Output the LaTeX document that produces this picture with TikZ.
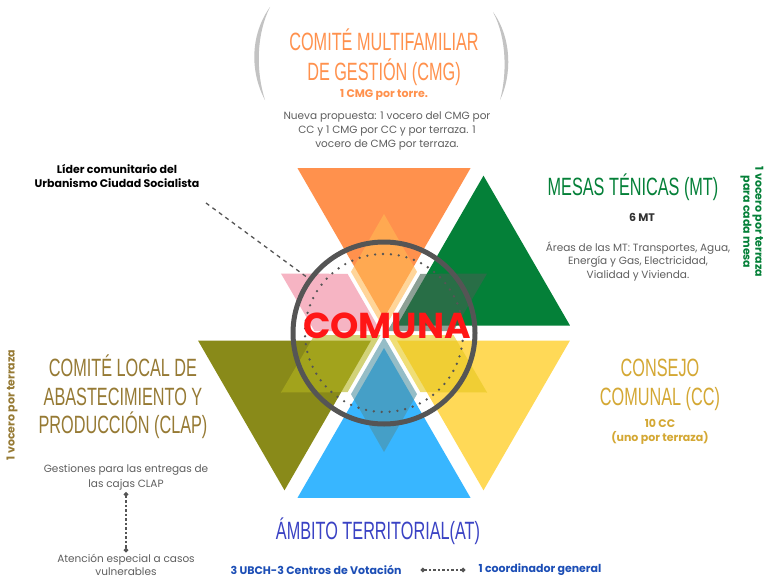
\documentclass[tikz,border=0pt]{standalone}
\usepackage{fontspec}
\setmainfont{Poppins}
\newfontfamily\headfont[FakeStretch=0.65]{Liberation Sans}
\usetikzlibrary{calc,arrows.meta}
\definecolor{cmgorange}{RGB}{255,145,77}
\definecolor{mtgreen}{RGB}{4,128,56}
\definecolor{ccyellow}{RGB}{255,217,87}
\definecolor{atsky}{RGB}{56,182,255}
\definecolor{clapolive}{RGB}{137,138,25}
\definecolor{cmginner}{RGB}{255,185,85}
\definecolor{mtinner}{RGB}{65,98,80}
\definecolor{ccinner}{RGB}{230,200,29}
\definecolor{atinner}{RGB}{79,145,163}
\definecolor{clapinner}{RGB}{180,180,30}
\definecolor{pinkinner}{RGB}{240,130,155}
\definecolor{ringgray}{RGB}{85,85,85}
\definecolor{parengray}{RGB}{195,195,195}
\definecolor{notegray}{RGB}{95,95,95}
\definecolor{darktext}{RGB}{50,50,50}
\definecolor{comunared}{RGB}{255,22,22}
\definecolor{clapgold}{RGB}{150,122,52}
\definecolor{ccgold}{RGB}{212,168,52}
\definecolor{atblue}{RGB}{58,66,196}
\definecolor{atbold}{RGB}{28,78,182}
\begin{document}
\begin{tikzpicture}[x=1pt, y=-1pt,
    head/.style={font=\headfont\fontsize{25}{30}\selectfont, align=center, inner sep=0pt},
    note/.style={font=\fontsize{10.5}{14}\selectfont, text=notegray, align=center, inner sep=2pt},
    tag/.style={font=\bfseries\fontsize{11}{14}\selectfont, align=center, inner sep=2pt},
    inner/.style={fill opacity=0.6},
    leader/.style={ringgray, line width=1.3pt, dash pattern=on 4pt off 4pt},
    dotlink/.style={ringgray, line width=1.3pt, dash pattern=on 2.5pt off 2pt, {Circle[length=4.5pt]}-{Circle[length=4.5pt]}}]
    \useasboundingbox[fill=white] (0,0) rectangle (765,578);
    \coordinate (C) at (384,333);
    \fill[parengray] (270,7) .. controls (250,35) and (250,72) .. (265,100) .. controls (256,72) and (256,35) .. (270,7) -- cycle;
    \fill[parengray] (493,12) .. controls (512,38) and (512,75) .. (500,100) .. controls (507,75) and (507,38) .. (493,12) -- cycle;
    \foreach \a/\col in {-90/cmgorange, -30/mtgreen, 30/ccyellow, 90/atsky, 150/clapolive}
        \fill[\col] ($(C)+(\a:15)$) -- +(\a-30:173) -- +(\a+30:173) -- cycle;
    \foreach \a/\col in {-90/cmginner, -30/mtinner, 30/ccinner, 90/atinner, 150/clapinner, -150/pinkinner}
        \fill[\col, inner] ($(C)+(\a:4)$) -- +(\a-30:66) -- +(\a:115) -- +(\a+30:66) -- cycle;
    \coordinate (lidertip) at (206,203);
    \coordinate (pinktip) at (308,278);
    \draw[leader] (lidertip) -- (pinktip);
    \draw[ringgray, line width=5pt] (C) circle (91);
    \draw[ringgray, line width=2.6pt, line cap=round, dash pattern=on 0pt off 7.9pt] (C) circle (79);
    \node[font=\bfseries\fontsize{36}{36}\selectfont, text=comunared, anchor=base] (comuna) at (387,338) {COMUNA};
    \node[head, text=cmgorange] (cmg) at (384,57) {COMITÉ MULTIFAMILIAR\\DE GESTIÓN (CMG)};
    \node[tag, text=cmgorange] (cmgnum) at (384,95) {1 CMG por torre.};
    \node[note] (cmgnote) at (387,131) {Nueva propuesta: 1 vocero del CMG por\\CC y 1 CMG por CC y por terraza. 1\\vocero de CMG por terraza.};
    \node[tag, text=black, font=\bfseries\fontsize{11}{14.5}\selectfont] (lider) at (117,176) {Líder comunitario del\\Urbanismo Ciudad Socialista};
    \node[head, text=mtgreen] (mt) at (633,187) {MESAS TÉNICAS (MT)};
    \node[tag, text=darktext] (mtnum) at (642,217) {6 MT};
    \node[note, font=\fontsize{10.5}{13.5}\selectfont] (mtnote) at (638,261) {Áreas de las MT: Transportes, Agua,\\Energía y Gas, Electricidad,\\Vialidad y Vivienda.};
    \node[tag, text=mtgreen, rotate=-90, font=\bfseries\fontsize{11}{12}\selectfont] (mtside) at (752,222) {1 vocero por terraza\\para cada mesa};
    \node[head, text=clapgold, font=\headfont\fontsize{25}{28.5}\selectfont] (clap) at (123,397) {COMITÉ LOCAL DE\\ABASTECIMIENTO Y\\PRODUCCIÓN (CLAP)};
    \node[tag, text=clapgold, rotate=90] (clapside) at (12,405) {1 vocero por terraza};
    \node[note, font=\fontsize{10.5}{15}\selectfont] (gestion) at (126,477) {Gestiones para las entregas de\\las cajas CLAP};
    \node[note, font=\fontsize{10.5}{12.5}\selectfont] (atencion) at (126,565) {Atención especial a casos\\vulnerables};
    \draw[dotlink] (gestion) -- (atencion);
    \node[head, text=ccgold, font=\headfont\fontsize{25}{29}\selectfont] (cc) at (660,385) {CONSEJO\\COMUNAL (CC)};
    \node[tag, text=ccgold] (ccnum) at (660,432) {10 CC\\(uno por terraza)};
    \node[head, text=atblue] (at) at (378,531) {ÁMBITO TERRITORIAL(AT)};
    \node[tag, text=atbold] (ubch) at (316,570) {3 UBCH-3 Centros de Votación};
    \node[tag, text=atbold] (coord) at (540,570) {1 coordinador general};
    \draw[dotlink] ([xshift=17pt]ubch.east) -- ([xshift=-11pt]coord.west);
\end{tikzpicture}
\end{document}
